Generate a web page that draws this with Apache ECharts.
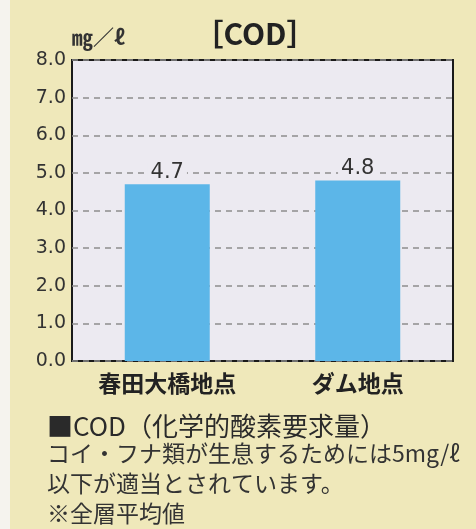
<!DOCTYPE html>
<html><head><meta charset="utf-8">
<script src="https://cdn.jsdelivr.net/npm/echarts@6/dist/echarts.min.js"></script>
<style>html,body{margin:0;padding:0;background:#f5f3ee;}#c{width:476px;height:529px;}</style>
</head><body><div id="c"></div>
<script>
const categories = ['春田大橋地点', 'ダム地点'];
const codValues = [4.7, 4.8];
const yTicks = [0, 1, 2, 3, 4, 5, 6, 7, 8];
const titleText = '［COD］';
const unitText = '㎎／ℓ';
const noteLines = [
  '■COD（化学的酸素要求量）',
  'コイ・フナ類が生息するためには5mg/ℓ',
  '以下が適当とされています。',
  '※全層平均値'
];
const FONT = '"Noto Sans CJK JP", "Noto Sans", sans-serif';
const chart = echarts.init(document.getElementById('c'));
chart.setOption({
  backgroundColor: '#f5f3ee',
  animation: false,
  graphic: [
    { type: 'rect', z: -10, shape: { x: 10, y: 0, width: 466, height: 529 }, style: { fill: '#efe8ba' } },
    { type: 'text', left: 47, top: 413, style: { text: noteLines[0], font: '26px ' + FONT, fill: '#2a2a2a' } },
    { type: 'text', left: 47, top: 442, style: { text: noteLines[1], font: '23px ' + FONT, fill: '#333' } },
    { type: 'text', left: 47, top: 472, style: { text: noteLines[2], font: '23px ' + FONT, fill: '#333' } },
    { type: 'text', left: 47, top: 502, style: { text: noteLines[3], font: '23px ' + FONT, fill: '#333' } },
    { type: 'text', left: 72, top: 27, style: { text: unitText, font: 'bold 21px ' + FONT, fill: '#333' } }
  ],
  title: {
    text: titleText, left: 250, top: 14, textAlign: 'center',
    textStyle: { fontFamily: FONT, fontSize: 30, fontWeight: 'bold', color: '#222' }
  },
  grid: {
    left: 72, top: 60, right: 23, bottom: 168, show: true,
    backgroundColor: '#eceaf1', borderColor: '#1a1a1a', borderWidth: 2
  },
  xAxis: {
    type: 'category', data: categories,
    axisLine: { show: false }, axisTick: { show: false },
    axisLabel: { margin: 11, fontFamily: FONT, fontSize: 23, fontWeight: 'bold', color: '#222' }
  },
  yAxis: {
    type: 'value', min: yTicks[0], max: yTicks[yTicks.length - 1], interval: 1,
    axisLine: { show: false }, axisTick: { show: false },
    axisLabel: { margin: 6, fontFamily: '"DejaVu Sans", sans-serif', fontSize: 19, color: '#333',
      formatter: v => v.toFixed(1) },
    splitLine: { show: true, lineStyle: { color: '#8d8d8d', width: 1.5, type: [6, 5] } }
  },
  series: [{
    type: 'bar', data: codValues, barWidth: 85,
    itemStyle: { color: '#5cb6e8' },
    label: {
      show: true, position: 'top', distance: 1,
      fontFamily: '"DejaVu Sans", sans-serif', fontSize: 21, color: '#333',
      backgroundColor: '#eceaf1', padding: [0, 3],
      formatter: p => p.value.toFixed(1)
    }
  }]
});
</script></body></html>
